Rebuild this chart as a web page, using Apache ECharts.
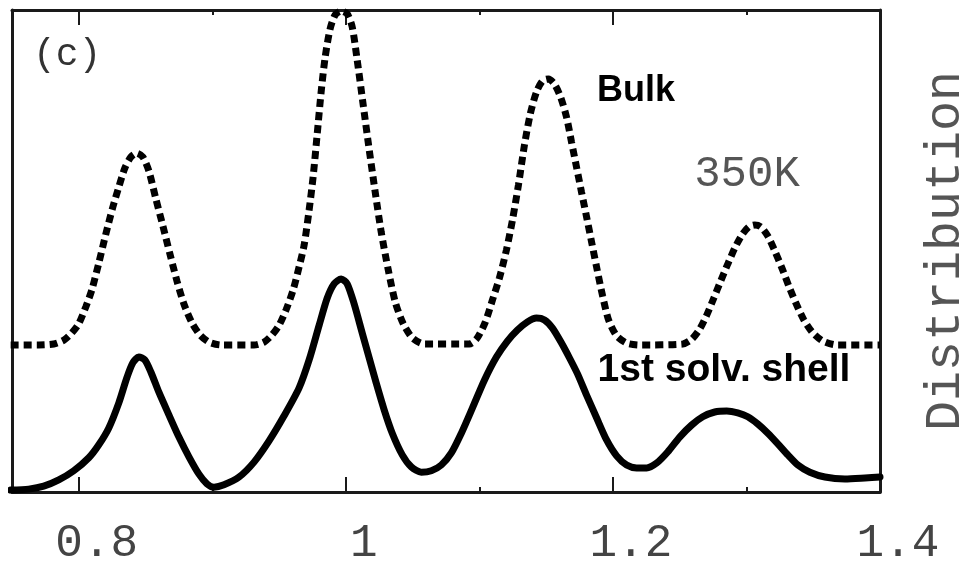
<!DOCTYPE html>
<html>
<head>
<meta charset="utf-8">
<script src="https://cdn.jsdelivr.net/npm/echarts@6/dist/echarts.min.js"></script>
<style>
  html, body { margin: 0; padding: 0; background: #fff; }
  #chart { width: 968px; height: 563px; }
</style>
</head>
<body>
<div id="chart"></div>
<script>
// Bond-length distribution at 350K: bulk vs. first solvation shell
const bulkX = [0.749, 0.770, 0.78125, 0.78875, 0.79475, 0.800, 0.80525, 0.80975, 0.815, 0.82025, 0.8255,
  0.830, 0.8345, 0.839, 0.8435, 0.848, 0.8525, 0.85775, 0.863, 0.86825, 0.8735, 0.87875, 0.88475,
  0.89075, 0.8975, 0.9065, 0.93125, 0.93875, 0.94475, 0.950, 0.95525, 0.9605, 0.965, 0.96875, 0.9725,
  0.9755, 0.9785, 0.9815, 0.9845, 0.98825, 0.992, 0.9965, 1.001, 1.00475, 1.0085, 1.013, 1.0175, 1.022,
  1.0265, 1.03175, 1.037, 1.043, 1.04975, 1.05875, 1.0925, 1.0985, 1.1045, 1.10975, 1.115, 1.12025,
  1.12475, 1.12925, 1.13375, 1.13825, 1.14275, 1.14725, 1.15175, 1.15625, 1.16075, 1.16525, 1.169,
  1.17275, 1.1765, 1.18025, 1.184, 1.18775, 1.19225, 1.19675, 1.20275, 1.21025, 1.220, 1.25225, 1.259,
  1.265, 1.27025, 1.2755, 1.28075, 1.286, 1.29125, 1.2965, 1.30175, 1.30625, 1.31075, 1.316, 1.32125,
  1.3265, 1.33175, 1.337, 1.343, 1.34975, 1.35725, 1.36775, 1.400];
const bulkY = [0.305, 0.305, 0.307, 0.315, 0.330, 0.349, 0.384, 0.419, 0.475, 0.535, 0.591,
  0.633, 0.672, 0.695, 0.703, 0.695, 0.666, 0.608, 0.552, 0.494, 0.438, 0.390, 0.351,
  0.326, 0.311, 0.305, 0.305, 0.311, 0.326, 0.346, 0.378, 0.419, 0.467, 0.512, 0.585,
  0.654, 0.741, 0.830, 0.902, 0.961, 0.990, 0.998, 0.992, 0.965, 0.896, 0.803, 0.710, 0.622,
  0.539, 0.461, 0.394, 0.349, 0.320, 0.307, 0.307, 0.320, 0.353, 0.398, 0.444, 0.502,
  0.564, 0.637, 0.720, 0.786, 0.830, 0.853, 0.857, 0.846, 0.820, 0.778, 0.726,
  0.674, 0.622, 0.571, 0.519, 0.467, 0.407, 0.357, 0.324, 0.309, 0.305, 0.307, 0.317,
  0.338, 0.367, 0.402, 0.438, 0.473, 0.506, 0.533, 0.550, 0.554, 0.550, 0.531, 0.500,
  0.465, 0.427, 0.392, 0.357, 0.330, 0.313, 0.305, 0.305];

const shellX = [0.749, 0.7625, 0.77375, 0.785, 0.79625, 0.8075, 0.815, 0.8225, 0.830, 0.836, 0.8405, 0.845,
  0.8495, 0.854, 0.860, 0.8675, 0.875, 0.8825, 0.890, 0.896, 0.90125, 0.90875, 0.920, 0.93125, 0.9425,
  0.95375, 0.965, 0.9725, 0.980, 0.986, 0.99125, 0.9965, 1.001, 1.00625, 1.01225, 1.0175, 1.02275,
  1.02875, 1.03475, 1.04225, 1.049, 1.0565, 1.064, 1.0715, 1.079, 1.0865, 1.09475, 1.10375, 1.11275,
  1.121, 1.1285, 1.136, 1.14275, 1.14875, 1.15475, 1.1615, 1.1675, 1.1735, 1.18025, 1.18775, 1.19525,
  1.20275, 1.21025, 1.21775, 1.22525, 1.23275, 1.241, 1.250, 1.259, 1.26725, 1.27625, 1.28525, 1.2935,
  1.301, 1.3085, 1.316, 1.3235, 1.331, 1.3385, 1.3475, 1.35875, 1.37375, 1.38875, 1.400];
const shellY = [0.004, 0.006, 0.012, 0.025, 0.044, 0.071, 0.098, 0.133, 0.185, 0.237, 0.268, 0.280,
  0.274, 0.249, 0.207, 0.160, 0.114, 0.073, 0.037, 0.017, 0.010, 0.015, 0.031, 0.062, 0.106,
  0.158, 0.216, 0.274, 0.346, 0.402, 0.432, 0.442, 0.432, 0.390, 0.330, 0.278, 0.226,
  0.170, 0.122, 0.077, 0.052, 0.041, 0.044, 0.056, 0.081, 0.122, 0.174, 0.232, 0.280,
  0.313, 0.336, 0.353, 0.361, 0.357, 0.340, 0.309, 0.278, 0.245, 0.201, 0.154, 0.108,
  0.075, 0.056, 0.050, 0.050, 0.060, 0.083, 0.114, 0.139, 0.156, 0.166, 0.168, 0.164,
  0.156, 0.141, 0.122, 0.100, 0.077, 0.056, 0.041, 0.031, 0.027, 0.029, 0.031];

const majorTicks = [0.8, 1.0, 1.2, 1.4];
const minorTicks = [0.9, 1.1, 1.3];
const tickLabels = ['0.8', '1', '1.2', '1.4'];

const AXIS = '#1a1a1a';
const MONO = '"Liberation Mono", "DejaVu Sans Mono", monospace';
const SANS = '"Liberation Sans", Arial, sans-serif';

function pairs(xs, ys) { return xs.map((x, i) => [x, ys[i]]); }

function xAxisDef(position, ticks, len, withLine, withLabels) {
  return {
    type: 'value', position: position, min: 0.75, max: 1.4,
    axisLine: { show: withLine, onZero: false, lineStyle: { color: AXIS, width: 3 } },
    axisTick: { show: true, inside: true, length: len, customValues: ticks,
      lineStyle: { color: AXIS, width: 2 } },
    axisLabel: withLabels ? {
      show: true, customValues: majorTicks, margin: 29,
      fontFamily: MONO, fontSize: 46, color: '#444',
      padding: [0, 0, 0, 36],
      formatter: v => tickLabels[majorTicks.findIndex(t => Math.abs(t - v) < 1e-6)]
    } : { show: false },
    splitLine: { show: false }
  };
}

const chart = echarts.init(document.getElementById('chart'));
chart.setOption({
  animation: false,
  backgroundColor: '#fff',
  grid: { left: 12, right: 88, top: 10, bottom: 71, containLabel: false, outerBoundsMode: 'none' },
  xAxis: [
    xAxisDef('bottom', majorTicks, 15, true, true),
    xAxisDef('bottom', minorTicks, 5, false, false),
    xAxisDef('top', majorTicks, 15, true, false),
    xAxisDef('top', minorTicks, 5, false, false)
  ],
  yAxis: [
    { type: 'value', position: 'left', min: 0, max: 1,
      axisLine: { show: true, lineStyle: { color: AXIS, width: 3 } },
      axisTick: { show: false }, axisLabel: { show: false }, splitLine: { show: false } },
    { type: 'value', position: 'right', min: 0, max: 1,
      axisLine: { show: true, lineStyle: { color: AXIS, width: 3 } },
      axisTick: { show: false }, axisLabel: { show: false }, splitLine: { show: false },
      name: 'Distribution', nameLocation: 'middle', nameRotate: 90, nameGap: 41,
      nameTextStyle: { fontFamily: MONO, fontSize: 50, color: '#555' } }
  ],
  series: [
    { name: 'Bulk', type: 'line', xAxisIndex: 0, yAxisIndex: 0, data: pairs(bulkX, bulkY),
      smooth: 0.25, showSymbol: false, clip: false,
      lineStyle: { color: '#000', width: 7, type: [8, 5], cap: 'butt' } },
    { name: '1st solv. shell', type: 'line', xAxisIndex: 0, yAxisIndex: 0, data: pairs(shellX, shellY),
      smooth: 0.25, showSymbol: false, clip: false,
      lineStyle: { color: '#000', width: 7, cap: 'round', join: 'round' } }
  ],
  graphic: [
    { type: 'text', left: 33, top: 36,
      style: { text: '(c)', fontFamily: MONO, fontSize: 38, fill: '#333' } },
    { type: 'text', x: 636, y: 109,
      style: { text: 'Bulk', fontFamily: SANS, fontWeight: 'bold', fontSize: 36, fill: '#000',
        align: 'center', verticalAlign: 'bottom' } },
    { type: 'text', x: 747, y: 174,
      style: { text: '350K', fontFamily: MONO, fontSize: 44, fill: '#555',
        align: 'center', verticalAlign: 'middle' } },
    { type: 'text', x: 724, y: 390,
      style: { text: '1st solv. shell', fontFamily: SANS, fontWeight: 'bold', fontSize: 39, fill: '#000',
        align: 'center', verticalAlign: 'bottom' } }
  ]
});
</script>
</body>
</html>
